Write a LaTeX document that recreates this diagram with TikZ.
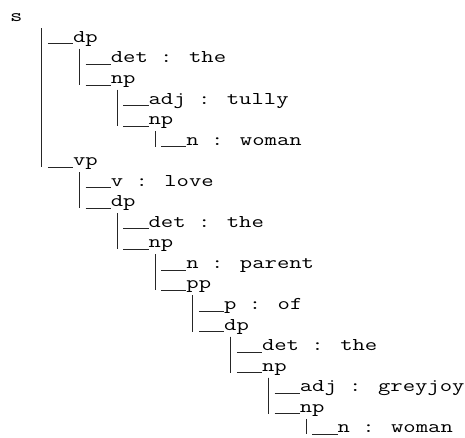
\documentclass[tikz,border=0pt]{standalone}
\usepackage{graphicx}
\usetikzlibrary{calc}
\tikzset{
  lbl/.style={anchor=base west, inner sep=0pt, outer sep=0pt,
    font=\fontsize{18pt}{20pt}\selectfont\ttfamily},
  bar/.style={line width=0.8pt, black!85}
}
\newcommand\lab[4]{\node[lbl] (#1) at ({10+12.6*#2},{21.8+20.55*#3}) {\scalebox{1.333}[1]{#4}};}
\newcommand\treelink[2]{%
  \draw[bar] let \p1=(#1.base west), \p2=(#2.base west) in
    (\x2-31.5pt,\y1-6.5pt) -- (\x2-31.5pt,\y2-1.5pt);
  \draw[bar] ([xshift=-25.2pt,yshift=-1.5pt]#2.base west) -- ([yshift=-1.5pt]#2.base west);}
\begin{document}
\begin{tikzpicture}[x=1pt,y=-1pt]
\fill[white] (0,0) rectangle (465,437);
\useasboundingbox (0,0) rectangle (465,437);
\lab{n0}{0}{0}{s}
\lab{n1}{5}{1}{dp}
\lab{n2}{8}{2}{det : the}
\lab{n3}{8}{3}{np}
\lab{n4}{11}{4}{adj : tully}
\lab{n5}{11}{5}{np}
\lab{n6}{14}{6}{n : woman}
\lab{n7}{5}{7}{vp}
\lab{n8}{8}{8}{v : love}
\lab{n9}{8}{9}{dp}
\lab{n10}{11}{10}{det : the}
\lab{n11}{11}{11}{np}
\lab{n12}{14}{12}{n : parent}
\lab{n13}{14}{13}{pp}
\lab{n14}{17}{14}{p : of}
\lab{n15}{17}{15}{dp}
\lab{n16}{20}{16}{det : the}
\lab{n17}{20}{17}{np}
\lab{n18}{23}{18}{adj : greyjoy}
\lab{n19}{23}{19}{np}
\lab{n20}{26}{20}{n : woman}
\treelink{n0}{n1}
\treelink{n1}{n2}
\treelink{n1}{n3}
\treelink{n3}{n4}
\treelink{n3}{n5}
\treelink{n5}{n6}
\treelink{n0}{n7}
\treelink{n7}{n8}
\treelink{n7}{n9}
\treelink{n9}{n10}
\treelink{n9}{n11}
\treelink{n11}{n12}
\treelink{n11}{n13}
\treelink{n13}{n14}
\treelink{n13}{n15}
\treelink{n15}{n16}
\treelink{n15}{n17}
\treelink{n17}{n18}
\treelink{n17}{n19}
\treelink{n19}{n20}
\end{tikzpicture}
\end{document}
